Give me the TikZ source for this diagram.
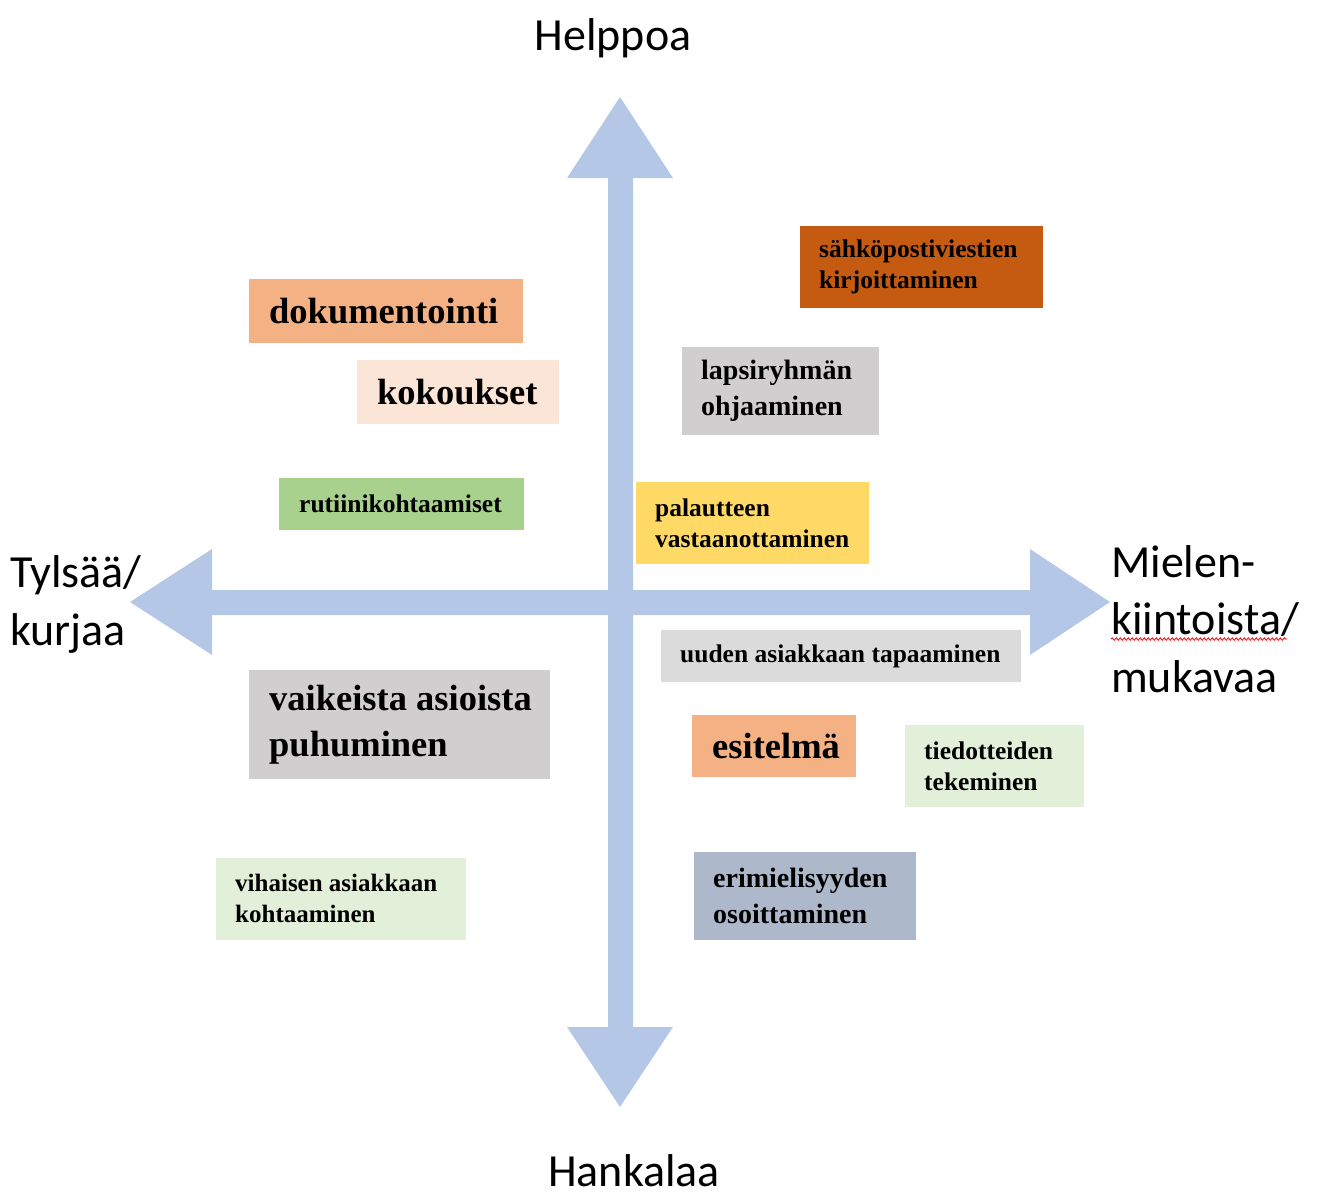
\documentclass[tikz,border=0pt]{standalone}
\usepackage{fontspec}
\setmainfont{Liberation Serif}
\newfontfamily\labfont{Carlito}
\usetikzlibrary{decorations.pathmorphing}
\definecolor{axisblue}{HTML}{B4C7E7}
\definecolor{cOrange}{HTML}{F4B183}
\definecolor{cPeach}{HTML}{FBE5D6}
\definecolor{cGreen}{HTML}{A9D18E}
\definecolor{cRust}{HTML}{C55A11}
\definecolor{cGrey}{HTML}{D0CECE}
\definecolor{cLGrey}{HTML}{DBDBDB}
\definecolor{cYellow}{HTML}{FFD966}
\definecolor{cLGreen}{HTML}{E2F0D9}
\definecolor{cSlate}{HTML}{ADB9CA}
\tikzset{
  card/.style={anchor=north west, inner sep=0pt, draw=white, line width=0.8pt},
  cardtext/.style={anchor=west, inner sep=0pt, align=left},
  big/.style={font=\fontsize{36.5}{46}\selectfont\bfseries},
  mid/.style={font=\fontsize{28}{36}\selectfont\bfseries},
  small/.style={font=\fontsize{25.5}{31}\selectfont\bfseries},
  axislabel/.style={font=\labfont\fontsize{46}{57.5}\selectfont, inner sep=0pt, align=left}
}
\begin{document}
\begin{tikzpicture}[x=1pt,y=-1pt]
\useasboundingbox (0,0) rectangle (1320,1195);
% axes
\fill[axisblue] (620,97) -- (673,178) -- (633,178) -- (633,1027) -- (673,1027) -- (620,1107)
  -- (567,1027) -- (608,1027) -- (608,178) -- (567,178) -- cycle;
\fill[axisblue] (130,602) -- (212,549) -- (212,590) -- (1030,590) -- (1030,549) -- (1110,602)
  -- (1030,655) -- (1030,615) -- (212,615) -- (212,655) -- cycle;
% axis labels
\node[axislabel, anchor=base] (helppoa) at (613,50) {Helppoa};
\node[axislabel, anchor=base] (hankalaa) at (634,1186) {Hankalaa};
\node[axislabel, anchor=base west] (tylsaa) at (10,645) {Tylsää/\\kurjaa};
\node[axislabel, anchor=base west] (mielen) at (1111,692) {Mielen-\\kiintoista/\\mukavaa};
\draw[red, line width=0.8pt, decorate, decoration={snake, amplitude=1.2pt, segment length=4pt}] (1111,639) -- (1287,639);
% cards
\node[card, fill=cOrange, minimum width=275pt, minimum height=65pt] (dok) at (248,278) {};
\node[cardtext, big] (dokt) at ([xshift=21pt]dok.west) {dokumentointi};
\node[card, fill=cPeach, minimum width=203pt, minimum height=65pt] (kok) at (356,359) {};
\node[cardtext, big] (kokt) at ([xshift=21pt]kok.west) {kokoukset};
\node[card, fill=cGreen, minimum width=246pt, minimum height=53pt] (rut) at (278,477) {};
\node[cardtext, small] (rutt) at ([xshift=21pt]rut.west) {rutiinikohtaamiset};
\node[card, fill=cRust, minimum width=244pt, minimum height=83pt] (sah) at (799,225) {};
\node[cardtext, small] (saht) at ([xshift=20pt]sah.west) {sähköpostiviestien\\kirjoittaminen};
\node[card, fill=cGrey, minimum width=198pt, minimum height=89pt] (lap) at (681,346) {};
\node[cardtext, mid] (lapt) at ([xshift=20pt]lap.west) {lapsiryhmän\\ohjaaminen};
\node[card, fill=cYellow, minimum width=234pt, minimum height=83pt] (pal) at (635,481) {};
\node[cardtext, small] (palt) at ([xshift=20pt]pal.west) {palautteen\\vastaanottaminen};
\node[card, fill=cLGrey, minimum width=361pt, minimum height=53pt] (uud) at (660,629) {};
\node[cardtext, small] (uudt) at ([xshift=20pt]uud.west) {uuden asiakkaan tapaaminen};
\node[card, fill=cOrange, minimum width=165pt, minimum height=63pt] (esi) at (691,714) {};
\node[cardtext, big] (esit) at ([xshift=21pt]esi.west) {esitelmä};
\node[card, fill=cLGreen, minimum width=180pt, minimum height=83pt] (tie) at (904,724) {};
\node[cardtext, small] (tiet) at ([xshift=20pt]tie.west) {tiedotteiden\\tekeminen};
\node[card, fill=cSlate, minimum width=223pt, minimum height=89pt] (eri) at (693,851) {};
\node[cardtext, mid] (erit) at ([xshift=20pt]eri.west) {erimielisyyden\\osoittaminen};
\node[card, fill=cGrey, minimum width=302pt, minimum height=110pt] (vai) at (248,669) {};
\node[cardtext, big] (vait) at ([xshift=21pt]vai.west) {vaikeista asioista\\puhuminen};
\node[card, fill=cLGreen, minimum width=251pt, minimum height=83pt] (vih) at (215,857) {};
\node[cardtext, font=\fontsize{25}{31}\selectfont\bfseries] (viht) at ([xshift=20pt]vih.west) {vihaisen asiakkaan\\kohtaaminen};
\end{tikzpicture}
\end{document}
